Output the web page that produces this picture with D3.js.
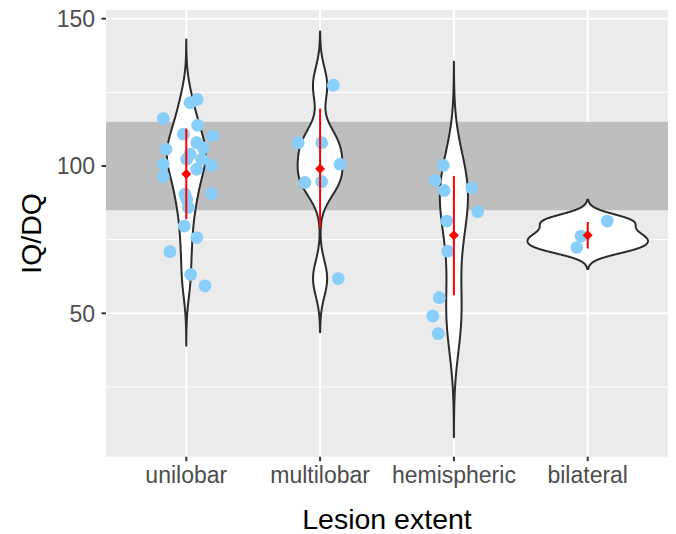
<!DOCTYPE html>
<html>
<head>
<meta charset="utf-8">
<script src="https://cdn.jsdelivr.net/npm/d3@7"></script>
<style>
  html, body { margin: 0; padding: 0; background: #ffffff; }
  svg { display: block; font-family: "Liberation Sans", Arial, Helvetica, sans-serif; }
</style>
</head>
<body>
<svg id="chart" width="676" height="534"></svg>
<script>
// ---- data ----
const categories = ["unilobar", "multilobar", "hemispheric", "bilateral"];

const unilobarValues = [122.6, 121.5, 116.1, 113.8, 110.8, 110.2, 107.9, 106.2, 105.7, 104.0, 102.3, 102.3, 100.6, 100.2, 98.9, 96.4, 90.4, 90.6, 88.7, 85.9, 79.6, 75.7, 70.9, 63.2, 59.3];
const unilobarJitter = [0.082, 0.028, -0.172, 0.085, -0.022, 0.197, 0.078, 0.127, -0.152, 0.028, 0.003, 0.115, -0.172, 0.19, 0.078, -0.172, -0.01, 0.19, 0.003, 0.015, -0.015, 0.078, -0.122, 0.033, 0.14];

const multilobarValues = [127.4, 107.9, 107.9, 100.6, 94.4, 94.7, 61.8];
const multilobarJitter = [0.099, -0.163, 0.012, 0.149, -0.113, 0.012, 0.136];

const hemisphericValues = [100.2, 95.1, 91.7, 92.6, 84.5, 81.3, 71.1, 55.3, 49.1, 43.1];
const hemisphericJitter = [-0.079, -0.141, -0.072, 0.133, 0.178, -0.054, -0.046, -0.109, -0.158, -0.117];

const bilateralValues = [81.3, 76.2, 72.3];
const bilateralJitter = [0.146, -0.05, -0.082];

// mean and mean ± 1 SD as drawn in red
const summaryMean = [97.3, 99.1, 76.5, 76.5];
const summaryLow  = [81.9, 79.1, 56.1, 72.0];
const summaryHigh = [112.7, 119.5, 96.6, 81.0];

// normal range band
const bandRange = [85, 115];

const yTicksMajor = [50, 100, 150];
const yTicksMinor = [25, 75, 125];
const xTitle = "Lesion extent";
const yTitle = "IQ/DQ";

// ---- layout ----
const panel = { left: 106, right: 668, top: 10, bottom: 456.7 };
const svg = d3.select("#chart");

const groups = [
  { cat: categories[0], values: unilobarValues, jitter: unilobarJitter },
  { cat: categories[1], values: multilobarValues, jitter: multilobarJitter },
  { cat: categories[2], values: hemisphericValues, jitter: hemisphericJitter },
  { cat: categories[3], values: bilateralValues, jitter: bilateralJitter }
];

// discrete x: positions 1..n with 0.6 expansion
const xLin = d3.scaleLinear().domain([0.4, categories.length + 0.6]).range([panel.left, panel.right]);
const xPos = c => xLin(categories.indexOf(c) + 1);
const unit = xLin(2) - xLin(1);

const y = d3.scaleLinear().domain([1.32, 152.95]).range([panel.bottom, panel.top]);

// ---- KDE like ggplot2 geom_violin(trim = FALSE, scale = "area") ----
function quantile7(sorted, p) {
  const h = (sorted.length - 1) * p;
  const lo = Math.floor(h), hi = Math.ceil(h);
  return sorted[lo] + (h - lo) * (sorted[hi] - sorted[lo]);
}
function bwNrd0(vals) {
  const s = vals.slice().sort((a, b) => a - b);
  const sd = d3.deviation(vals);
  const iqr = (quantile7(s, 0.75) - quantile7(s, 0.25)) / 1.34;
  let lo = Math.min(sd, iqr);
  if (!(lo > 0)) lo = sd || Math.abs(s[0]) || 1;
  return 0.9 * lo * Math.pow(vals.length, -0.2);
}
groups.forEach(g => {
  const bw = bwNrd0(g.values);
  const lo = d3.min(g.values) - 3 * bw, hi = d3.max(g.values) + 3 * bw;
  const n = 512;
  const pts = [];
  for (let i = 0; i < n; i++) {
    const v = lo + (hi - lo) * i / (n - 1);
    let d = 0;
    g.values.forEach(xi => { const z = (v - xi) / bw; d += Math.exp(-0.5 * z * z); });
    d /= (g.values.length * bw * Math.sqrt(2 * Math.PI));
    pts.push({ v, d });
  }
  g.dens = pts;
});
const maxDens = d3.max(groups, g => d3.max(g.dens, p => p.d));

// ---- panel ----
svg.append("rect")
  .attr("x", panel.left).attr("y", panel.top)
  .attr("width", panel.right - panel.left).attr("height", panel.bottom - panel.top)
  .attr("fill", "#EBEBEB");

const grid = svg.append("g");
yTicksMinor.forEach(t => grid.append("line")
  .attr("x1", panel.left).attr("x2", panel.right)
  .attr("y1", y(t)).attr("y2", y(t))
  .attr("stroke", "#ffffff").attr("stroke-width", 1));
yTicksMajor.forEach(t => grid.append("line")
  .attr("x1", panel.left).attr("x2", panel.right)
  .attr("y1", y(t)).attr("y2", y(t))
  .attr("stroke", "#ffffff").attr("stroke-width", 2));
categories.forEach(c => grid.append("line")
  .attr("x1", xPos(c)).attr("x2", xPos(c))
  .attr("y1", panel.top).attr("y2", panel.bottom)
  .attr("stroke", "#ffffff").attr("stroke-width", 2));

// band
svg.append("rect")
  .attr("x", panel.left).attr("width", panel.right - panel.left)
  .attr("y", y(bandRange[1])).attr("height", y(bandRange[0]) - y(bandRange[1]))
  .attr("fill", "#BEBEBE");

// violins
const halfMax = unit * 0.45;
groups.forEach(g => {
  const cx = xPos(g.cat);
  const right = g.dens.map(p => [cx + p.d / maxDens * halfMax, y(p.v)]);
  const left = g.dens.slice().reverse().map(p => [cx - p.d / maxDens * halfMax, y(p.v)]);
  const all = right.concat(left);
  svg.append("path")
    .attr("d", d3.line()(all) + "Z")
    .attr("fill", "#ffffff")
    .attr("stroke", "#2b2b2b")
    .attr("stroke-width", 2)
    .attr("stroke-linejoin", "round");
});

// points
groups.forEach(g => {
  const cx = xPos(g.cat);
  svg.append("g").selectAll("circle")
    .data(g.values.map((v, i) => ({ v, j: g.jitter[i] })))
    .join("circle")
    .attr("cx", d => cx + d.j * unit)
    .attr("cy", d => y(d.v))
    .attr("r", 6.4)
    .attr("fill", "#87CEFA");
});

// mean ± sd
categories.forEach((c, i) => {
  const cx = xPos(c);
  svg.append("line")
    .attr("x1", cx).attr("x2", cx)
    .attr("y1", y(summaryLow[i])).attr("y2", y(summaryHigh[i]))
    .attr("stroke", "#FF0000").attr("stroke-width", 2);
  const my = y(summaryMean[i]), r = 5;
  svg.append("path")
    .attr("d", `M${cx},${my - r}L${cx + r},${my}L${cx},${my + r}L${cx - r},${my}Z`)
    .attr("fill", "#FF0000");
});

// axes ticks & labels
const axisCol = "#333333", labCol = "#4D4D4D";
yTicksMajor.forEach(t => {
  svg.append("line")
    .attr("x1", panel.left - 4.5).attr("x2", panel.left)
    .attr("y1", y(t)).attr("y2", y(t))
    .attr("stroke", axisCol).attr("stroke-width", 2);
  svg.append("text")
    .attr("x", 95).attr("y", y(t)).attr("dy", "0.36em")
    .attr("text-anchor", "end")
    .attr("font-size", 23).attr("fill", labCol)
    .text(t);
});
categories.forEach(c => {
  svg.append("line")
    .attr("x1", xPos(c)).attr("x2", xPos(c))
    .attr("y1", panel.bottom).attr("y2", panel.bottom + 4.5)
    .attr("stroke", axisCol).attr("stroke-width", 2);
  svg.append("text")
    .attr("x", xPos(c)).attr("y", 483.3)
    .attr("text-anchor", "middle")
    .attr("font-size", 23).attr("fill", labCol)
    .text(c);
});

// titles
svg.append("text")
  .attr("x", (panel.left + panel.right) / 2).attr("y", 529)
  .attr("text-anchor", "middle")
  .attr("font-size", 28.5).attr("fill", "#000000")
  .text(xTitle);
svg.append("text")
  .attr("transform", `translate(40.5,${(panel.top + panel.bottom) / 2}) rotate(-90)`)
  .attr("text-anchor", "middle")
  .attr("font-size", 28.5).attr("fill", "#000000")
  .text(yTitle);
</script>
</body>
</html>
